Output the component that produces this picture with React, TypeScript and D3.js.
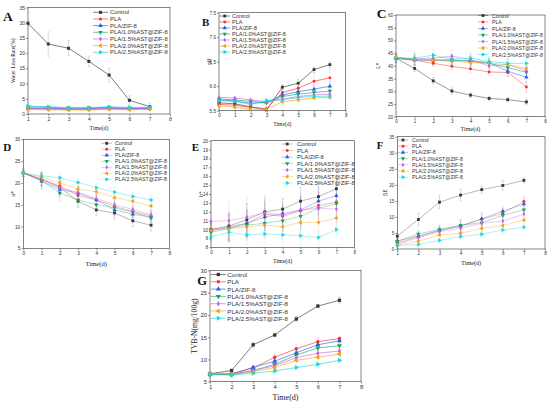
import React, { useEffect, useRef } from 'react';
import * as d3 from 'd3';

const seriesNames = ['Control', 'PLA', 'PLA/ZIF-8', 'PLA/1.0%AST@ZIF-8', 'PLA/1.5%AST@ZIF-8', 'PLA/2.0%AST@ZIF-8', 'PLA/2.5%AST@ZIF-8'];
const seriesColors = ['#363636', '#ff2d2d', '#1f5fe8', '#10a957', '#cc5cf0', '#f2a20c', '#14d8dc'];
const markerKinds = ['square', 'circle', 'up', 'down', 'diamond', 'left', 'right'];

const daysFrom1 = [1, 2, 3, 4, 5, 6, 7];
const daysFrom0 = [0, 1, 2, 3, 4, 5, 6, 7];

const ticks1to8 = [1, 2, 3, 4, 5, 6, 7, 8];
const ticks0to8 = [0, 1, 2, 3, 4, 5, 6, 7, 8];
const ticks0to35 = [0, 5, 10, 15, 20, 25, 30, 35];
const ticksPh = [5.5, 6.0, 6.5, 7.0, 7.5];
const ticksL = [20, 25, 30, 35, 40, 45, 50, 55, 60];
const ticks5to30 = [5, 10, 15, 20, 25, 30];
const ticks8to20 = [8, 9, 10, 11, 12, 13, 14, 15, 16, 17, 18, 19, 20];

// A: water loss rate (%)
const waterLossValues = [
  [29.8, 23.0, 21.6, 17.3, 12.8, 4.5, 2.4],
  [1.8, 1.6, 1.5, 1.5, 1.7, 1.6, 1.7],
  [2.0, 1.9, 1.7, 1.8, 2.0, 1.8, 1.9],
  [2.4, 2.2, 2.0, 2.0, 2.2, 2.0, 2.1],
  [1.7, 1.7, 1.6, 1.6, 1.8, 1.7, 1.8],
  [1.5, 1.4, 1.3, 1.3, 1.5, 1.4, 1.5],
  [2.6, 2.4, 2.1, 2.1, 2.4, 2.1, 2.2],
];
const waterLossErrors = [
  [0.8, 4.0, 2.5, 1.7, 2.3, 1.5, 1.2],
  [0.3, 0.3, 0.3, 0.3, 0.3, 0.3, 0.3],
  [0.3, 0.3, 0.3, 0.3, 0.3, 0.3, 0.3],
  [0.3, 0.4, 0.3, 0.3, 0.4, 0.3, 0.3],
  [0.3, 0.3, 0.3, 0.3, 0.3, 0.3, 0.3],
  [0.3, 0.3, 0.3, 0.3, 0.3, 0.3, 0.3],
  [0.3, 0.4, 0.3, 0.3, 0.4, 0.3, 0.3],
];

// B: pH
const phValues = [
  [5.66, 5.64, 5.58, 5.52, 5.98, 6.06, 6.34, 6.44],
  [5.63, 5.61, 5.57, 5.54, 5.87, 5.96, 6.10, 6.17],
  [5.72, 5.70, 5.65, 5.67, 5.82, 5.89, 5.94, 6.00],
  [5.74, 5.72, 5.69, 5.66, 5.79, 5.84, 5.87, 5.90],
  [5.77, 5.76, 5.72, 5.68, 5.74, 5.79, 5.82, 5.84],
  [5.60, 5.57, 5.53, 5.53, 5.68, 5.72, 5.76, 5.77],
  [5.70, 5.69, 5.63, 5.71, 5.72, 5.77, 5.79, 5.80],
];
const phErrors = [
  [0.04, 0.05, 0.05, 0.04, 0.05, 0.08, 0.06, 0.06],
  [0.04, 0.05, 0.05, 0.04, 0.06, 0.09, 0.15, 0.18],
  [0.04, 0.04, 0.04, 0.04, 0.05, 0.06, 0.08, 0.10],
  [0.03, 0.04, 0.04, 0.04, 0.05, 0.05, 0.06, 0.06],
  [0.03, 0.04, 0.04, 0.04, 0.05, 0.05, 0.06, 0.06],
  [0.03, 0.04, 0.04, 0.04, 0.05, 0.05, 0.05, 0.05],
  [0.03, 0.04, 0.04, 0.04, 0.05, 0.05, 0.05, 0.05],
];

// C: L*
const lValues = [
  [43.0, 39.0, 34.1, 30.1, 28.5, 27.2, 26.7, 25.8],
  [43.0, 42.2, 41.0, 39.8, 38.8, 37.6, 37.4, 31.7],
  [43.0, 42.3, 42.2, 42.1, 42.0, 41.3, 37.9, 35.5],
  [43.0, 42.4, 42.3, 42.4, 41.7, 41.0, 39.3, 37.5],
  [43.3, 42.8, 43.0, 43.8, 42.4, 40.0, 40.5, 38.1],
  [43.5, 42.5, 42.2, 41.8, 41.3, 41.0, 40.5, 39.0],
  [43.0, 43.0, 44.2, 42.6, 43.0, 41.7, 41.0, 41.0],
];
const lErrors = [
  [1.0, 1.2, 1.3, 1.2, 0.9, 0.9, 0.8, 1.2],
  [1.5, 1.5, 1.2, 1.4, 1.6, 1.3, 1.5, 2.0],
  [1.8, 2.0, 1.8, 1.8, 2.0, 1.8, 2.0, 2.2],
  [1.8, 2.0, 1.8, 1.8, 2.0, 1.8, 2.0, 2.2],
  [1.8, 2.2, 2.0, 2.5, 2.2, 2.0, 2.0, 2.2],
  [1.8, 2.0, 1.8, 1.8, 2.0, 1.8, 2.0, 2.0],
  [1.8, 2.8, 2.2, 2.0, 2.4, 2.0, 2.0, 2.0],
];

// D: a*
const aValues = [
  [22.3, 20.8, 19.0, 15.8, 13.8, 13.1, 11.3, 10.3],
  [22.2, 20.9, 19.3, 17.1, 16.1, 14.6, 13.4, 12.5],
  [22.4, 20.4, 18.5, 17.7, 16.1, 13.8, 12.8, 12.2],
  [22.3, 20.5, 17.7, 16.1, 15.0, 14.3, 13.3, 12.0],
  [22.2, 20.8, 18.9, 17.8, 16.4, 15.0, 13.9, 12.7],
  [22.4, 21.3, 20.0, 18.6, 18.0, 16.6, 15.8, 14.7],
  [22.2, 21.6, 21.2, 20.1, 18.9, 17.9, 16.9, 16.1],
];
const aErrors = [
  [0.8, 1.5, 1.6, 1.5, 1.3, 1.3, 1.3, 1.3],
  [0.8, 1.4, 1.5, 1.4, 1.3, 1.3, 1.2, 1.3],
  [0.8, 1.8, 1.8, 1.5, 1.3, 1.4, 1.3, 1.3],
  [0.8, 1.5, 1.8, 1.5, 1.3, 1.3, 1.2, 1.2],
  [0.8, 1.4, 1.5, 1.4, 1.3, 1.3, 1.2, 1.2],
  [0.8, 1.2, 1.2, 1.2, 1.1, 1.1, 1.1, 1.1],
  [0.8, 1.0, 1.0, 1.0, 1.0, 1.0, 1.0, 1.0],
];

// E: b*
const bValues = [
  [10.0, 10.4, 11.1, 12.0, 12.3, 13.2, 13.7, 14.6],
  [10.0, 10.3, 10.7, 11.7, 11.5, 12.1, 12.7, 13.1],
  [9.9, 10.2, 10.7, 11.4, 11.8, 12.2, 13.2, 13.8],
  [9.7, 10.1, 10.5, 10.7, 11.0, 11.5, 12.4, 12.9],
  [10.9, 11.0, 11.4, 11.9, 11.6, 12.2, 12.4, 12.3],
  [9.9, 10.1, 10.3, 10.5, 10.3, 10.8, 10.8, 11.3],
  [9.2, 9.7, 9.4, 9.5, 9.4, 9.3, 9.1, 10.0],
];
const bErrors = [
  [1.0, 1.5, 1.8, 1.5, 1.2, 1.5, 1.5, 1.5],
  [1.0, 1.5, 1.5, 1.5, 1.2, 1.5, 1.5, 1.5],
  [1.0, 1.5, 1.5, 1.5, 1.2, 1.5, 1.5, 1.5],
  [1.0, 1.5, 1.5, 1.5, 1.2, 1.5, 1.5, 1.5],
  [1.0, 2.3, 2.2, 2.0, 1.8, 1.8, 1.8, 1.5],
  [1.0, 1.5, 1.5, 1.5, 1.2, 1.5, 1.5, 1.5],
  [0.8, 1.0, 1.0, 1.0, 0.8, 1.0, 0.8, 0.8],
];

// F: delta E
const deltaEValues = [
  [4.0, 9.2, 14.6, 16.8, 18.5, 19.8, 21.4],
  [1.8, 3.9, 5.7, 7.1, 9.3, 11.1, 14.8],
  [2.5, 4.0, 5.9, 7.2, 9.4, 11.8, 14.0],
  [2.4, 4.7, 6.1, 7.4, 8.2, 10.5, 12.2],
  [1.5, 3.5, 5.4, 6.5, 8.0, 8.7, 10.9],
  [1.2, 2.4, 4.4, 4.9, 6.4, 7.3, 9.0],
  [1.1, 1.4, 2.7, 3.9, 4.6, 5.9, 6.8],
];
const deltaEErrors = [
  [1.0, 2.0, 2.0, 1.8, 1.2, 1.5, 0.8],
  [0.8, 1.2, 1.2, 1.5, 1.5, 1.5, 1.5],
  [0.8, 1.5, 1.5, 2.0, 2.0, 1.5, 1.5],
  [0.8, 1.2, 1.2, 1.5, 1.5, 1.5, 1.2],
  [0.8, 1.2, 1.2, 1.2, 1.2, 1.2, 1.2],
  [0.6, 1.0, 1.0, 1.0, 1.0, 1.0, 1.0],
  [0.6, 0.8, 0.8, 0.8, 0.8, 0.8, 0.8],
];

// G: TVB-N (mg/100g)
const tvbnValues = [
  [6.8, 7.5, 13.3, 15.5, 19.1, 22.0, 23.3],
  [6.7, 6.8, 8.1, 10.5, 12.4, 14.0, 14.7],
  [6.6, 6.7, 8.2, 9.6, 11.5, 13.3, 14.2],
  [6.6, 6.6, 7.5, 8.9, 11.0, 12.6, 13.1],
  [6.7, 6.7, 7.5, 8.6, 10.4, 11.4, 11.9],
  [6.8, 6.6, 7.2, 8.2, 9.8, 10.5, 11.2],
  [6.6, 6.5, 6.9, 7.4, 8.2, 8.9, 9.8],
];
const tvbnErrors = [
  [0.4, 0.4, 0.6, 0.4, 0.6, 0.4, 0.8],
  [0.3, 0.3, 0.4, 0.6, 1.0, 0.8, 0.6],
  [0.3, 0.3, 0.4, 0.5, 0.7, 0.6, 0.6],
  [0.3, 0.3, 0.4, 0.5, 0.6, 0.6, 0.6],
  [0.3, 0.3, 0.4, 0.5, 0.6, 0.6, 0.6],
  [0.3, 0.3, 0.4, 0.5, 0.6, 0.6, 0.6],
  [0.3, 0.3, 0.3, 0.4, 0.5, 0.5, 0.5],
];

type PanelCfg = {
  letter: string; letterX: number; letterY: number; letterSize: number;
  left: number; right: number; top: number; bottom: number;
  xs: number[]; xDomain: [number, number]; xTicks: number[];
  yDomain: [number, number]; yTicks: number[]; yFormat: (v: number) => string;
  values: number[][]; errors: number[][];
  yLabel: string; yLabelX: number; titleY: number; titleSize: number;
  tickSize: number; lineOpacity: number; markerSize: number;
  legend: { lx0: number; lx1: number; tx: number; y0: number; dy: number; fs: number };
};

const intFmt = (v: number) => d3.format('d')(v);
const oneDec = (v: number) => d3.format('.1f')(v);

const panels: PanelCfg[] = [
  {
    letter: 'A', letterX: 3, letterY: 20.7, letterSize: 13.5,
    left: 28, right: 170, top: 7.5, bottom: 114,
    xs: daysFrom1, xDomain: [1, 8], xTicks: ticks1to8,
    yDomain: [0, 35], yTicks: ticks0to35, yFormat: intFmt,
    values: waterLossValues, errors: waterLossErrors,
    yLabel: 'Water Loss Rate(%)', yLabelX: 14, titleY: 129.5, titleSize: 5.8,
    tickSize: 5, lineOpacity: 0.9, markerSize: 9,
    legend: { lx0: 93, lx1: 108, tx: 110, y0: 12.3, dy: 6.67, fs: 5.9 },
  },
  {
    letter: 'B', letterX: 202, letterY: 25.5, letterSize: 11,
    left: 219, right: 345.7, top: 12.7, bottom: 110.7,
    xs: daysFrom0, xDomain: [0, 8], xTicks: ticks0to8,
    yDomain: [5.5, 7.5], yTicks: ticksPh, yFormat: oneDec,
    values: phValues, errors: phErrors,
    yLabel: 'pH', yLabelX: 210, titleY: 126, titleSize: 5.6,
    tickSize: 4.6, lineOpacity: 0.9, markerSize: 8,
    legend: { lx0: 219.5, lx1: 230, tx: 232, y0: 16, dy: 6, fs: 5.5 },
  },
  {
    letter: 'C', letterX: 376.7, letterY: 18.3, letterSize: 13.5,
    left: 396, right: 545, top: 15, bottom: 116.7,
    xs: daysFrom0, xDomain: [0, 8], xTicks: ticks0to8,
    yDomain: [20, 60], yTicks: ticksL, yFormat: intFmt,
    values: lValues, errors: lErrors,
    yLabel: 'L*', yLabelX: 378.3, titleY: 131, titleSize: 6.1,
    tickSize: 4.6, lineOpacity: 0.7, markerSize: 8,
    legend: { lx0: 478, lx1: 488, tx: 492, y0: 15.5, dy: 6.5, fs: 5.2 },
  },
  {
    letter: 'D', letterX: 3.3, letterY: 150.7, letterSize: 11,
    left: 23.3, right: 169.3, top: 139.3, bottom: 248.3,
    xs: daysFrom0, xDomain: [0, 8], xTicks: ticks0to8,
    yDomain: [5, 30], yTicks: ticks5to30, yFormat: intFmt,
    values: aValues, errors: aErrors,
    yLabel: 'a*', yLabelX: 14, titleY: 266, titleSize: 6.6,
    tickSize: 4.8, lineOpacity: 0.5, markerSize: 8,
    legend: { lx0: 101.7, lx1: 111.7, tx: 115, y0: 143.3, dy: 6, fs: 5.3 },
  },
  {
    letter: 'E', letterX: 191.7, letterY: 150.7, letterSize: 11,
    left: 211, right: 354.3, top: 140.7, bottom: 247.3,
    xs: daysFrom0, xDomain: [0, 8], xTicks: ticks0to8,
    yDomain: [8, 20], yTicks: ticks8to20, yFormat: intFmt,
    values: bValues, errors: bErrors,
    yLabel: 'b*', yLabelX: 201.7, titleY: 263, titleSize: 5.9,
    tickSize: 4.6, lineOpacity: 0.5, markerSize: 8,
    legend: { lx0: 281.7, lx1: 292.7, tx: 297, y0: 144, dy: 6.5, fs: 5.9 },
  },
  {
    letter: 'F', letterX: 376.7, letterY: 149.3, letterSize: 10.5,
    left: 397.3, right: 545, top: 136.7, bottom: 249,
    xs: daysFrom1, xDomain: [1, 8], xTicks: ticks1to8,
    yDomain: [0, 35], yTicks: ticks0to35, yFormat: intFmt,
    values: deltaEValues, errors: deltaEErrors,
    yLabel: 'ΔE', yLabelX: 385.7, titleY: 264.5, titleSize: 6.2,
    tickSize: 4.6, lineOpacity: 0.5, markerSize: 8,
    legend: { lx0: 398, lx1: 408, tx: 412, y0: 140, dy: 6.2, fs: 5.2 },
  },
  {
    letter: 'G', letterX: 197.3, letterY: 285, letterSize: 12.5,
    left: 210, right: 361, top: 270.5, bottom: 381.7,
    xs: daysFrom1, xDomain: [1, 8], xTicks: ticks1to8,
    yDomain: [5, 30], yTicks: ticks5to30, yFormat: intFmt,
    values: tvbnValues, errors: tvbnErrors,
    yLabel: 'TVB-N(mg/100g)', yLabelX: 195.7, titleY: 399.5, titleSize: 8,
    tickSize: 5.8, lineOpacity: 0.9, markerSize: 11,
    legend: { lx0: 211, lx1: 225.7, tx: 227.3, y0: 274.5, dy: 7.3, fs: 6.2 },
  },
];

const SANS = 'Liberation Sans, Arial, Helvetica, sans-serif';
const SERIF = 'Liberation Serif, Times New Roman, serif';

function symbolPath(kind: string, size: number): { d: string; rot: number } {
  const map: Record<string, [d3.SymbolType, number]> = {
    square: [d3.symbolSquare, 0],
    circle: [d3.symbolCircle, 0],
    up: [d3.symbolTriangle, 0],
    down: [d3.symbolTriangle, 180],
    diamond: [d3.symbolDiamond, 0],
    left: [d3.symbolTriangle, -90],
    right: [d3.symbolTriangle, 90],
  };
  const [t, rot] = map[kind];
  const s = kind === 'circle' ? size * 0.85 : kind === 'diamond' ? size * 0.8 : size;
  return { d: d3.symbol().type(t).size(s)() as string, rot };
}

function drawPanel(root: d3.Selection<SVGSVGElement, unknown, null, undefined>, p: PanelCfg) {
  const g = root.append('g');
  const x = d3.scaleLinear().domain(p.xDomain).range([p.left, p.right]);
  const y = d3.scaleLinear().domain(p.yDomain).range([p.bottom, p.top]);

  // axes
  const xa = g.append('g').attr('transform', `translate(0,${p.bottom})`)
    .call(d3.axisBottom(x).tickValues(p.xTicks).tickSize(2).tickPadding(1).tickFormat((v) => intFmt(v as number)));
  const ya = g.append('g').attr('transform', `translate(${p.left},0)`)
    .call(d3.axisLeft(y).tickValues(p.yTicks).tickSize(2).tickPadding(1).tickFormat((v) => p.yFormat(v as number)));
  [xa, ya].forEach((a) => {
    a.attr('font-size', p.tickSize).attr('font-family', SANS);
    a.select('.domain').remove();
    a.selectAll('line').attr('stroke', '#333').attr('stroke-width', 0.5);
    a.selectAll('text').attr('fill', '#333');
  });

  // frame
  g.append('rect')
    .attr('x', p.left).attr('y', p.top)
    .attr('width', p.right - p.left).attr('height', p.bottom - p.top)
    .attr('fill', 'none').attr('stroke', '#333').attr('stroke-width', 0.6);

  // titles
  g.append('text')
    .attr('x', (p.left + p.right) / 2).attr('y', p.titleY)
    .attr('text-anchor', 'middle').attr('font-family', SERIF).attr('font-size', p.titleSize)
    .attr('fill', '#222').text('Time(d)');
  g.append('text')
    .attr('transform', `translate(${p.yLabelX},${(p.top + p.bottom) / 2}) rotate(-90)`)
    .attr('text-anchor', 'middle').attr('dominant-baseline', 'middle')
    .attr('font-family', SERIF).attr('font-size', p.titleSize * 0.95)
    .attr('fill', '#222').text(p.yLabel);
  g.append('text')
    .attr('x', p.letterX).attr('y', p.letterY)
    .attr('font-family', SERIF).attr('font-weight', 'bold').attr('font-size', p.letterSize)
    .attr('fill', '#111').text(p.letter);

  // error bars, tinted by series colour
  p.values.forEach((vals, si) => {
    const eb = g.append('g')
      .attr('stroke', si === 0 ? '#9a9a9a' : seriesColors[si])
      .attr('stroke-opacity', si === 0 ? 0.7 : 0.3)
      .attr('stroke-width', 0.5);
    vals.forEach((v, i) => {
      const e = p.errors[si][i];
      const cx = x(p.xs[i]);
      const y1 = y(v - e), y2 = y(v + e);
      eb.append('line').attr('x1', cx).attr('x2', cx).attr('y1', y1).attr('y2', y2);
      eb.append('line').attr('x1', cx - 1.2).attr('x2', cx + 1.2).attr('y1', y1).attr('y2', y1);
      eb.append('line').attr('x1', cx - 1.2).attr('x2', cx + 1.2).attr('y1', y2).attr('y2', y2);
    });
  });

  // series
  const line = d3.line<number>().x((_, i) => x(p.xs[i])).y((v) => y(v));
  p.values.forEach((vals, si) => {
    const color = seriesColors[si];
    g.append('path').attr('d', line(vals) as string)
      .attr('fill', 'none').attr('stroke', color).attr('stroke-width', 0.7)
      .attr('stroke-opacity', p.lineOpacity);
    const sym = symbolPath(markerKinds[si], p.markerSize);
    vals.forEach((v, i) => {
      g.append('path').attr('d', sym.d)
        .attr('transform', `translate(${x(p.xs[i])},${y(v)}) rotate(${sym.rot})`)
        .attr('fill', color);
    });
  });

  // legend
  const L = p.legend;
  seriesNames.forEach((name, si) => {
    const ry = L.y0 + si * L.dy;
    const color = seriesColors[si];
    g.append('line').attr('x1', L.lx0).attr('x2', L.lx1).attr('y1', ry).attr('y2', ry)
      .attr('stroke', color).attr('stroke-width', 0.7).attr('stroke-opacity', p.lineOpacity);
    const sym = symbolPath(markerKinds[si], p.markerSize);
    g.append('path').attr('d', sym.d)
      .attr('transform', `translate(${(L.lx0 + L.lx1) / 2},${ry}) rotate(${sym.rot})`)
      .attr('fill', color);
    g.append('text').attr('x', L.tx).attr('y', ry).attr('dominant-baseline', 'central')
      .attr('font-family', SANS).attr('font-size', L.fs).attr('fill', '#333').text(name);
  });
}

export default function App() {
  const ref = useRef<SVGSVGElement>(null);
  useEffect(() => {
    if (!ref.current) return;
    const svg = d3.select(ref.current);
    svg.selectAll('*').remove();
    panels.forEach((p) => drawPanel(svg, p));
  }, []);
  return (
    <svg
      ref={ref}
      width={550}
      height={405}
      viewBox="0 0 550 405"
      style={{ position: 'absolute', left: 0, top: 0, background: '#fff', display: 'block' }}
    />
  );
}
